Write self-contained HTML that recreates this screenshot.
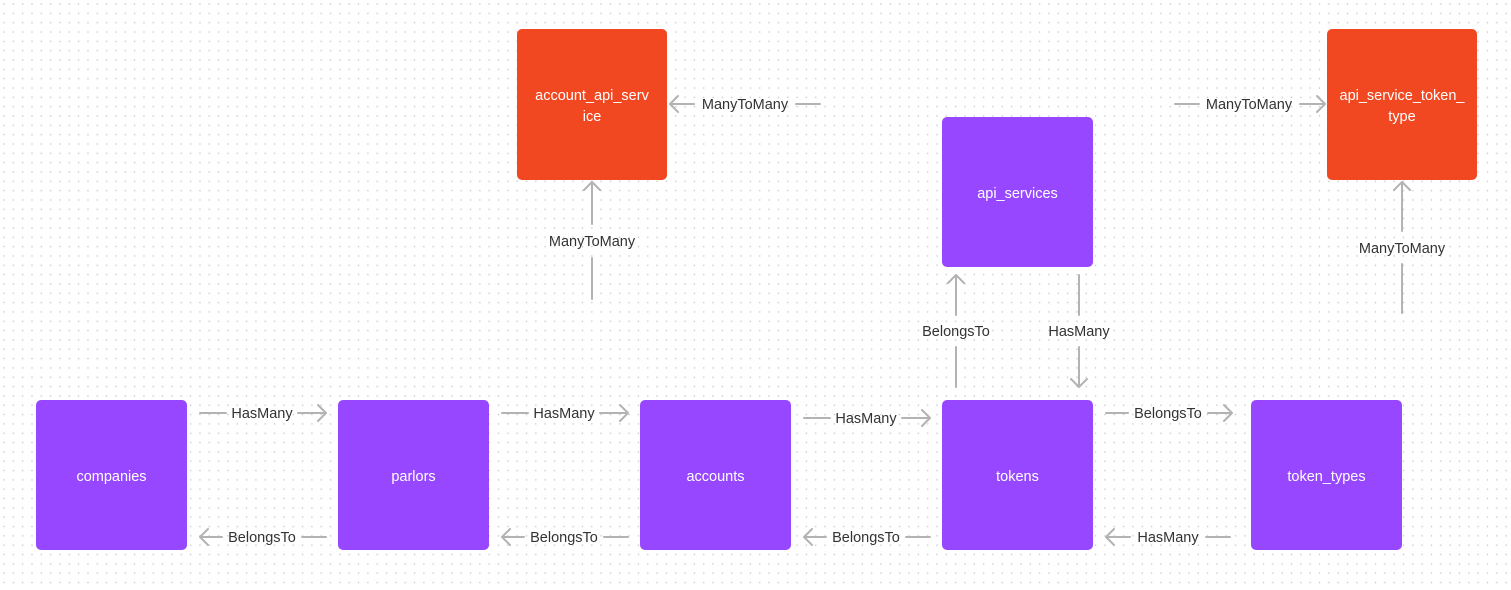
<!DOCTYPE html>
<html><head><meta charset="utf-8"><style>
html,body{margin:0;padding:0;background:#fff;}
svg{display:block;font-family:"Liberation Sans",sans-serif;}
</style></head><body>
<svg width="1511" height="590" viewBox="0 0 1511 590" xmlns="http://www.w3.org/2000/svg">
<defs>
<pattern id="d" width="9.33" height="9.33" patternUnits="userSpaceOnUse" x="3" y="3">
<circle cx="1" cy="1" r="0.8" fill="#c8c8c8"/></pattern>
</defs>
<rect width="1511" height="590" fill="url(#d)"/>
<g fill="#9747FF">
<rect x="36" y="400" width="151" height="150" rx="5"/>
<rect x="338" y="400" width="151" height="150" rx="5"/>
<rect x="640" y="400" width="151" height="150" rx="5"/>
<rect x="942" y="400" width="151" height="150" rx="5"/>
<rect x="1251" y="400" width="151" height="150" rx="5"/>
<rect x="942" y="117" width="151" height="150" rx="5"/>
</g>
<g fill="#F24822">
<rect x="517" y="29" width="150" height="151" rx="5"/>
<rect x="1327" y="29" width="150" height="151" rx="5"/>
</g>
<g fill="#fff" font-size="14.5" text-anchor="middle">
<text x="111.5" y="481">companies</text>
<text x="413.5" y="481">parlors</text>
<text x="715.5" y="481">accounts</text>
<text x="1017.5" y="481">tokens</text>
<text x="1326.5" y="481">token_types</text>
<text x="1017.5" y="198">api_services</text>
<text x="592" y="100">account_api_serv</text>
<text x="592" y="121">ice</text>
<text x="1402" y="100">api_service_token_</text>
<text x="1402" y="121">type</text>
</g>
<g stroke="#b3b3b3" stroke-width="2" fill="none" stroke-linecap="round" stroke-linejoin="round">
<path d="M200 413H226M298 413H326M318 405L326 413L318 421"/>
<path d="M502 413H528M600 413H628M620 405L628 413L620 421"/>
<path d="M804 418H830M902 418H930M922 410L930 418L922 426"/>
<path d="M1106 413H1128M1208 413H1232M1224 405L1232 413L1224 421"/>
<path d="M200 537H222M302 537H326M208 529L200 537L208 545"/>
<path d="M502 537H524M604 537H628M510 529L502 537L510 545"/>
<path d="M804 537H826M906 537H930M812 529L804 537L812 545"/>
<path d="M1106 537H1130M1206 537H1230M1114 529L1106 537L1114 545"/>
<path d="M670 104H694M796 104H820M678 96L670 104L678 112"/>
<path d="M1175 104H1199M1300 104H1325M1317 96L1325 104L1317 112"/>
<path d="M592 182V224M592 258V299M584 190L592 182L600 190"/>
<path d="M956 275V315M956 347V387M948 283L956 275L964 283"/>
<path d="M1079 275V315M1079 347V387M1071 379L1079 387L1087 379"/>
<path d="M1402 182V231M1402 264V313M1394 190L1402 182L1410 190"/>
</g>
<g fill="#333" font-size="14.5" text-anchor="middle">
<text x="262" y="418">HasMany</text>
<text x="564" y="418">HasMany</text>
<text x="866" y="423">HasMany</text>
<text x="1168" y="418">BelongsTo</text>
<text x="262" y="542">BelongsTo</text>
<text x="564" y="542">BelongsTo</text>
<text x="866" y="542">BelongsTo</text>
<text x="1168" y="542">HasMany</text>
<text x="745" y="109">ManyToMany</text>
<text x="1249" y="109">ManyToMany</text>
<text x="592" y="246">ManyToMany</text>
<text x="956" y="336">BelongsTo</text>
<text x="1079" y="336">HasMany</text>
<text x="1402" y="253">ManyToMany</text>
</g>
</svg>
</body></html>
